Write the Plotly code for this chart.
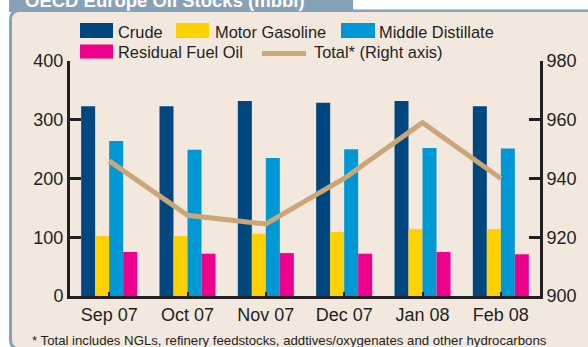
import plotly.graph_objects as go

# Monthly OECD Europe stocks, million barrels
months = ["Sep 07", "Oct 07", "Nov 07", "Dec 07", "Jan 08", "Feb 08"]
crude = [323, 323, 332, 329, 332, 323]
gasoline = [102, 102, 106, 109, 114, 114]
middle = [264, 249, 235, 250, 252, 251]
residual = [75, 72, 73, 72, 75, 71]
total = [946, 927.5, 924.5, 940, 959, 940]

left_ticks = [0, 100, 200, 300, 400]
right_ticks = [900, 920, 940, 960, 980]

C_CRUDE = "#00467F"
C_GAS = "#FFD100"
C_MID = "#0098D4"
C_RES = "#EC008C"
C_TOTAL = "#CBA677"
C_FRAME = "#87A2B7"
C_PANEL = "#F2E8DD"
C_TEXT = "#231F20"
FONT = "Arial, Liberation Sans, sans-serif"

W, H = 588, 347
ML, MR, MT, MB = 70, 48, 61, 51
PW, PH = W - ML - MR, H - MT - MB


def px(x):
    return (x - ML) / PW


def py(y):
    return (H - MB - y) / PH


fig = go.Figure()
for name, vals, col in [("Crude", crude, C_CRUDE), ("Motor Gasoline", gasoline, C_GAS),
                        ("Middle Distillate", middle, C_MID), ("Residual Fuel Oil", residual, C_RES)]:
    fig.add_trace(go.Bar(x=months, y=vals, name=name, marker=dict(color=col, line=dict(width=0)),
                         showlegend=False))

fig.add_trace(go.Scatter(x=months, y=total, name="Total* (Right axis)", yaxis="y2", mode="lines",
                         line=dict(color=C_TOTAL, width=5), showlegend=False))


def rounded(x0, y0, x1, y1, r):
    return (f"M {px(x0)},{py(y1 - r)} L {px(x0)},{py(y0 + r)} "
            f"Q {px(x0)},{py(y0)} {px(x0 + r)},{py(y0)} "
            f"L {px(x1)},{py(y0)} L {px(x1)},{py(y1)} L {px(x0 + r)},{py(y1)} "
            f"Q {px(x0)},{py(y1)} {px(x0)},{py(y1 - r)} Z")


shapes = [
    # header tab and framed panel
    dict(type="rect", xref="paper", yref="paper", x0=px(9), x1=px(353), y0=py(12), y1=py(-10),
         fillcolor=C_FRAME, line=dict(width=0), layer="below"),
    dict(type="path", xref="paper", yref="paper", path=rounded(9, 9.5, 600, 350, 10),
         fillcolor=C_FRAME, line=dict(width=0), layer="below"),
    dict(type="path", xref="paper", yref="paper", path=rounded(12, 12, 600, 347.5, 8),
         fillcolor=C_PANEL, line=dict(width=0), layer="below"),
]

# legend swatches
for x0, x1, y0, y1, col in [(80, 113, 23, 38, C_CRUDE), (176, 209, 23, 38, C_GAS),
                            (341, 375, 23, 38, C_MID), (80, 113, 44.5, 58.5, C_RES)]:
    shapes.append(dict(type="rect", xref="paper", yref="paper", x0=px(x0), x1=px(x1),
                       y0=py(y1), y1=py(y0), fillcolor=col, line=dict(width=0)))
shapes.append(dict(type="line", xref="paper", yref="paper", x0=px(262), x1=px(306),
                   y0=py(53.5), y1=py(53.5), line=dict(color=C_TOTAL, width=5)))


def note(text, x, y, size, color=C_TEXT):
    return dict(text=text, x=px(x), y=py(y), xref="paper", yref="paper", xanchor="left",
                yanchor="middle", showarrow=False, font=dict(size=size, color=color, family=FONT))


annotations = [
    note("<b>OECD Europe Oil Stocks (mbbl)</b>", 23, 0.5, 18.5, "white"),
    note("* Total includes NGLs, refinery feedstocks, addtives/oxygenates and other hydrocarbons",
         30, 340, 13.2),
]
for label, x, y in [("Crude", 116, 31.5), ("Motor Gasoline", 213, 31.5), ("Middle Distillate", 377, 31.5),
                    ("Residual Fuel Oil", 116, 51.5), ("Total* (Right axis)", 312, 51.5)]:
    annotations.append(note(label, x, y, 16.4))

axis_common = dict(showgrid=False, zeroline=False, showline=True, linecolor=C_TEXT, linewidth=3,
                   ticks="inside", tickcolor=C_TEXT, tickfont=dict(size=18, color=C_TEXT, family=FONT))

fig.update_layout(
    width=W, height=H,
    margin=dict(l=ML, r=MR, t=MT, b=MB, pad=0),
    paper_bgcolor="white", plot_bgcolor="rgba(0,0,0,0)",
    barmode="group", bargap=0.285, bargroupgap=0,
    font=dict(family=FONT, color=C_TEXT),
    xaxis=dict(**axis_common, type="category", ticklen=4, tickwidth=2),
    yaxis=dict(**axis_common, range=[0, 400], tickvals=left_ticks, ticklen=11, tickwidth=3),
    yaxis2=dict(**axis_common, range=[900, 980], tickvals=right_ticks, ticklen=11, tickwidth=3,
                overlaying="y", side="right"),
    shapes=shapes, annotations=annotations,
    showlegend=False,
)

fig.write_html("out.html")
